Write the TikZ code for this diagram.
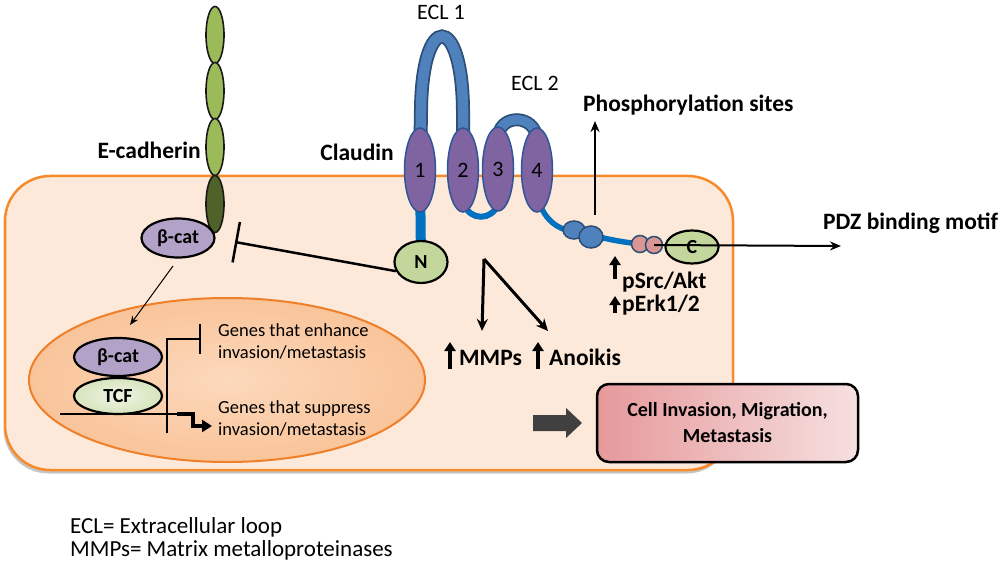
\documentclass[tikz,border=0pt]{standalone}
\usepackage{fontspec}
\setmainfont{Carlito}
\usetikzlibrary{arrows.meta,shapes.geometric,shadows}
\definecolor{cellfill}{HTML}{FDE9D9}
\definecolor{cellorange}{HTML}{F68B2C}
\definecolor{nucin}{HTML}{FCD9BC}
\definecolor{nucout}{HTML}{F9C49A}
\definecolor{nucorange}{HTML}{F07F2A}
\definecolor{ecadgreen}{HTML}{9BBB59}
\definecolor{ecaddark}{HTML}{4F6228}
\definecolor{bcat}{HTML}{B3A2C7}
\definecolor{ngreen}{HTML}{C3D69B}
\definecolor{tcfin}{HTML}{EEF4E4}
\definecolor{tcfout}{HTML}{D7E4BD}
\definecolor{helixpurple}{HTML}{8064A2}
\definecolor{helixborder}{HTML}{2F5597}
\definecolor{loopblue}{HTML}{4F81BD}
\definecolor{loopdark}{HTML}{2C4D75}
\definecolor{tailblue}{HTML}{0070C0}
\definecolor{beadpink}{HTML}{D99694}
\definecolor{boxleft}{HTML}{E6999B}
\definecolor{boxright}{HTML}{F6E0E0}
\definecolor{arrowgray}{HTML}{404040}
\pgfdeclarelayer{back}
\pgfdeclarelayer{loops}
\pgfsetlayers{back,loops,main}
\begin{document}
\begin{tikzpicture}[x=1pt,y=-1pt,
  lbl/.style={font=\fontsize{23.5}{27}\selectfont\bfseries, inner sep=0pt},
  slbl/.style={font=\fontsize{23.5}{27}\selectfont\bfseries, inner sep=0pt},
  reg/.style={font=\fontsize{22}{26}\selectfont, inner sep=0pt},
  leg/.style={font=\fontsize{23}{26}\selectfont, inner sep=0pt},
  genes/.style={font=\fontsize{18.5}{22}\selectfont, inner sep=0pt, align=left},
  helix/.style={ellipse, draw=helixborder, line width=1.5pt, fill=helixpurple, minimum width=31pt, minimum height=84pt, inner sep=0pt, font=\fontsize{22}{26}\selectfont},
  ecad/.style={ellipse, draw=black!90, line width=1.6pt, fill=ecadgreen, minimum width=18pt, minimum height=57pt, inner sep=0pt},
  blob/.style={ellipse, draw=black, line width=2.2pt, inner sep=0pt, font=\fontsize{20}{24}\selectfont\bfseries},
  bead/.style={ellipse, draw=loopdark, line width=1.5pt, inner sep=0pt},
  thinarrow/.style={-{Stealth[length=9pt,width=7pt]}, line width=1pt},
  medarrow/.style={-{Stealth[length=11pt,width=9pt]}, line width=2pt},
  forkarrow/.style={-{Stealth[length=12pt,width=11pt]}, line width=3pt},
  uparrow/.style={-{Triangle[length=9pt,width=11pt]}, line width=3.5pt},
]
\useasboundingbox (0,0) rectangle (1000,569);

% ---------- background: cell and nucleus ----------
\begin{pgfonlayer}{back}
\node[draw=cellorange, line width=2.5pt, fill=cellfill, rounded corners=45pt,
      minimum width=728pt, minimum height=294pt, inner sep=0pt,
      drop shadow={shadow xshift=-1.5pt, shadow yshift=-3.5pt, fill=black!45, opacity=0.5}]
      (cell) at (369,323) {};
\node[ellipse, draw=nucorange, line width=2pt, inner color=nucin, outer color=nucout,
      minimum width=396pt, minimum height=164pt, inner sep=0pt] (nuc) at (227,380) {};
\end{pgfonlayer}

% ---------- claudin helices and nodes ----------
\node[helix] (h1) at (420,170) {1};
\node[helix] (h2) at (463,170) {2};
\node[helix] (h3) at (498,169) {3};
\node[helix] (h4) at (537,170) {4};
\node[blob, fill=ngreen, minimum width=53pt, minimum height=42pt] (N) at (421,262) {N};

\node[bead, fill=loopblue, minimum width=22pt, minimum height=18pt] (b1) at (574,230) {};
\node[bead, fill=loopblue, minimum width=24pt, minimum height=22pt] (b2) at (591,237) {};
\node[bead, fill=beadpink, minimum width=17pt, minimum height=17pt] (p1) at (640,244) {};
\node[bead, fill=beadpink, minimum width=17pt, minimum height=17pt] (p2) at (654,245) {};
\node[blob, fill=ngreen, minimum width=53pt, minimum height=33pt] (C) at (692,247) {C};

% loops and tails
\begin{pgfonlayer}{loops}
\draw[line width=14pt, loopdark] (h1.center) -- (421,110) .. controls (422,12) and (462,12) .. (463,110) -- (h2.center);
\draw[line width=10.5pt, loopblue] (h1.center) -- (421,110) .. controls (422,12) and (462,12) .. (463,110) -- (h2.center);
\draw[line width=13pt, loopdark] (h3.center) -- (498,140) .. controls (497,113) and (536,113) .. (537,140) -- (h4.center);
\draw[line width=9.5pt, loopblue] (h3.center) -- (498,140) .. controls (497,113) and (536,113) .. (537,140) -- (h4.center);
\draw[line width=6pt, tailblue] (h2.center) -- (464,204) .. controls (470,221) and (492,221) .. (498,204) -- (h3.center);
\draw[line width=10pt, tailblue] (h1.center) -- (N.center);
\draw[line width=5.5pt, tailblue] (h4.center) -- (538,200) .. controls (548,228) and (565,231) .. (585,234) .. controls (605,238) and (620,243) .. (p2.center);
\end{pgfonlayer}

% ---------- E-cadherin ----------
\node[ecad] (e1) at (215,35) {};
\node[ecad] (e2) at (215,91) {};
\node[ecad] (e3) at (215,147) {};
\node[ecad, fill=ecaddark] (e4) at (215,204) {};
\node[blob, fill=bcat, minimum width=73pt, minimum height=39pt] (bcat1) at (178,238) {β-cat};

% ---------- nucleus content ----------
\node[blob, fill=bcat, minimum width=88pt, minimum height=38pt] (bcat2) at (118,357) {β-cat};
\node[blob, inner color=tcfin, outer color=tcfout, minimum width=88pt, minimum height=36pt] (tcf) at (118,396) {TCF};

\coordinate (dnaL) at (60,414);
\coordinate (prom) at (177,414);
\coordinate (vbot) at (167,433);
\coordinate (vtop) at (167,339);
\coordinate (barpt) at (201,339);
\coordinate (upgene) at (212,426);
\draw[line width=2.5pt] (dnaL) -- (prom);
\draw[line width=2.5pt, -{Bar[width=30pt]}] (vbot) -- (vtop) -- (barpt);
\draw[line width=3.5pt, -{Triangle[length=10pt,width=12pt]}] (prom) -- (193,414) -- (193,426) -- (upgene);

\node[genes, anchor=west] (g1) at (218,341) {Genes that enhance\\invasion/metastasis};
\node[genes, anchor=west] (g2) at (218,418) {Genes that suppress\\invasion/metastasis};

% beta-cat to nucleus
\coordinate (bstart) at (173,266);
\coordinate (bend) at (130,325);
\draw[thinarrow] (bstart) -- (bend);

% inhibition of beta-cat by N
\coordinate (inhib) at (235,242);
\draw[line width=2.5pt, -{Bar[width=41pt]}] (N.200) -- (inhib);

% fork from N
\coordinate (fork) at (484,259);
\coordinate (mmpend) at (482,331);
\coordinate (anoend) at (548,331);
\draw[forkarrow] (fork) -- (mmpend);
\draw[forkarrow] (fork) -- (anoend);

% up arrows with labels
\node[lbl, anchor=west] (mmps) at (459,358) {MMPs};
\node[lbl, anchor=west] (anoikis) at (549,357) {Anoikis};
\coordinate (ma1) at (450,369); \coordinate (ma2) at (450,342);
\coordinate (aa1) at (538,369); \coordinate (aa2) at (538,342);
\draw[uparrow] (ma1) -- (ma2);
\draw[uparrow] (aa1) -- (aa2);

\node[slbl, anchor=west] (psrc) at (622,282) {pSrc/Akt};
\node[slbl, anchor=west] (perk) at (622,305) {pErk1/2};
\coordinate (sa1) at (615,279); \coordinate (sa2) at (615,256);
\coordinate (ea1) at (615,313); \coordinate (ea2) at (615,296);
\draw[uparrow] (sa1) -- (sa2);
\draw[uparrow] (ea1) -- (ea2);

% phosphorylation and PDZ
\node[lbl, anchor=west] (phos) at (583,105) {Phosphorylation sites};
\coordinate (phb) at (595,215);
\coordinate (pht) at (595,121);
\draw[medarrow] (phb) -- (pht);
\node[lbl, anchor=west] (pdz) at (823,223) {PDZ binding motif};
\coordinate (pdzend) at (841,246);
\draw[medarrow] (p2.center) -- (pdzend);

% labels
\node[lbl, anchor=east] (ecadlbl) at (201,150) {E-cadherin};
\node[lbl, anchor=east] (claudinlbl) at (394,152) {Claudin};
\node[reg] (ecl1) at (441,12) {ECL 1};
\node[reg] (ecl2) at (535,83) {ECL 2};

% outcome
\fill[arrowgray] (533,415) -- (566,415) -- (566,408) -- (582,423) -- (566,438) -- (566,431) -- (533,431) -- cycle;
\node[draw=black, line width=2.5pt, rounded corners=12pt, left color=boxleft, right color=boxright,
      minimum width=261pt, minimum height=78pt, align=center,
      font=\fontsize{20}{26}\selectfont\bfseries] (out) at (727.5,423) {Cell Invasion, Migration,\\Metastasis};

% legend
\node[leg, anchor=west] (leg1) at (70,527) {ECL= Extracellular loop};
\node[leg, anchor=west] (leg2) at (70,550) {MMPs= Matrix metalloproteinases};
\end{tikzpicture}
\end{document}
